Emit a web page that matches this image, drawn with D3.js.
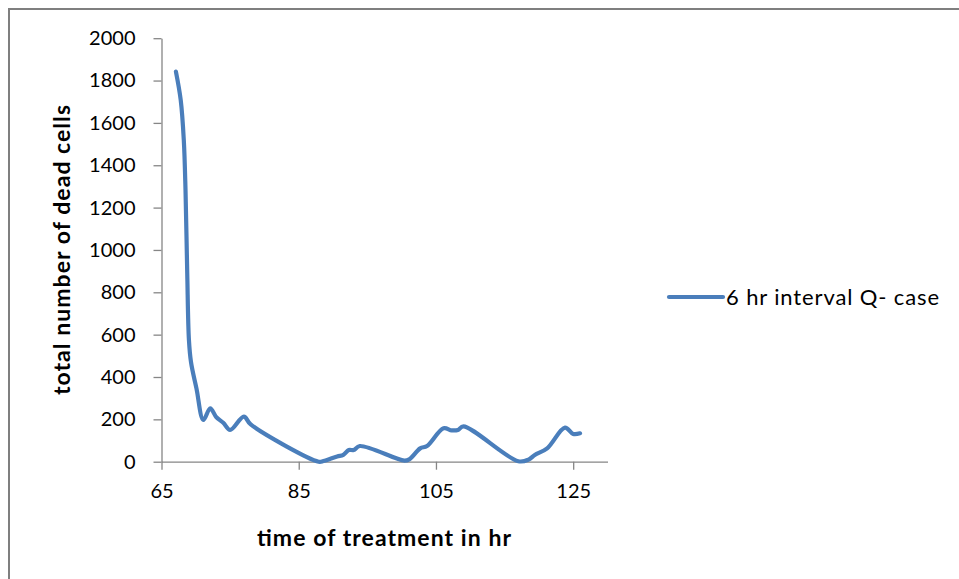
<head></head>
<body style="margin:0">
    <style>
        body { background: #fff; }
        .tick text { font-family: 'Lato', 'Open Sans', sans-serif; font-size: 20px; fill: #000; }
        .axis path, .axis line { stroke: #868686; stroke-width: 1.3px; }
        .title { font-family: 'Lato', 'Open Sans', sans-serif; font-weight: bold; font-size: 23px; fill: #000; }
        .legend { font-family: 'Lato', 'Open Sans', sans-serif; font-size: 22px; fill: #000; }
    </style>
    <svg id="chart" width="959" height="579"></svg>
    <script src="https://d3js.org/d3.v7.min.js"></script>
    <script>
        // hours of treatment and dead cell counts
        var hours = [67.1, 67.8, 68.25, 68.5, 68.75, 69.0, 69.3, 70.1, 71.1, 72.1, 73.0, 74.0, 75.0,
                     77.0, 78.0, 87.9, 88.6, 90.6, 91.5, 92.3, 93.0, 93.9, 100.4, 101.1, 102.7,
                     103.7, 106.1, 107.3, 108.2, 109.0, 117.0, 118.5, 119.4, 121.2, 123.8, 125.0, 126.0];
        var deadCells = [1842, 1708, 1519, 1282, 891, 574, 470, 345, 197, 252, 210, 184, 150,
                         213, 176, 0, 3, 25, 32, 55, 55, 74, 5, 11, 63,
                         74, 158, 148, 150, 167, 2, 10, 32, 63, 161, 131, 134];
        var xTicks = [65, 85, 105, 125];
        var yTicks = [0, 200, 400, 600, 800, 1000, 1200, 1400, 1600, 1800, 2000];
        var seriesName = "6 hr interval Q- case";

        var svg = d3.select('#chart');

        // outer chart frame (runs off the right and bottom edge)
        svg.append("rect")
            .attr("x", 9).attr("y", 9)
            .attr("width", 1000).attr("height", 700)
            .attr("fill", "#fff")
            .attr("stroke", "#7f7f7f")
            .attr("stroke-width", 2);

        var x = d3.scaleLinear().domain([65, 130]).range([161.5, 607.5]);
        var y = d3.scaleLinear().domain([0, 2000]).range([461.7, 38.2]);

        svg.append("g").attr("class", "axis")
            .attr("transform", "translate(161.5,0)")
            .call(d3.axisLeft(y).tickValues(yTicks).tickFormat(d3.format("d"))
                .tickSize(8).tickPadding(18).tickSizeOuter(0));

        svg.append("g").attr("class", "axis")
            .attr("transform", "translate(0,461.7)")
            .call(d3.axisBottom(x).tickValues(xTicks).tickFormat(d3.format("d"))
                .tickSize(8).tickPadding(14).tickSizeOuter(0));

        var pts = hours.map((h, i) => [h, deadCells[i]]);
        var line = d3.line()
            .x(d => x(d[0]))
            .y(d => y(d[1]))
            .curve(d3.curveCatmullRom.alpha(0.5));

        svg.append("path")
            .datum(pts)
            .attr("d", line)
            .attr("fill", "none")
            .attr("stroke", "#4a7ebb")
            .attr("stroke-width", 4.2)
            .attr("stroke-linejoin", "round")
            .attr("stroke-linecap", "round");

        // axis titles
        svg.append("text").attr("class", "title")
            .attr("x", 384).attr("y", 546)
            .attr("text-anchor", "middle")
            .attr("textLength", 254)
            .text("time of treatment in hr");

        svg.append("text").attr("class", "title")
            .attr("transform", "translate(70,250) rotate(-90)")
            .attr("text-anchor", "middle")
            .attr("textLength", 290)
            .text("total number of dead cells");

        // legend
        svg.append("line")
            .attr("x1", 669).attr("x2", 723)
            .attr("y1", 297).attr("y2", 297)
            .attr("stroke", "#4a7ebb")
            .attr("stroke-width", 4.2)
            .attr("stroke-linecap", "round");
        svg.append("text").attr("class", "legend")
            .attr("x", 726).attr("y", 305)
            .attr("textLength", 213)
            .text(seriesName);
    </script>
</body>
